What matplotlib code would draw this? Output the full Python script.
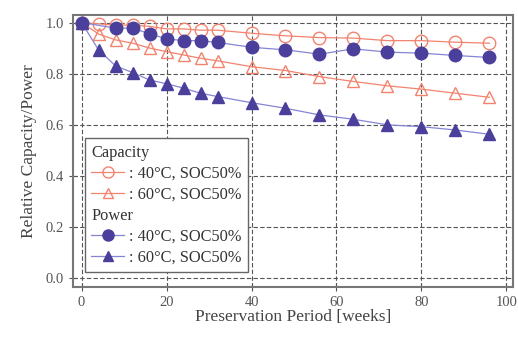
import matplotlib.pyplot as plt
from matplotlib.lines import Line2D

plt.rcParams["font.family"] = ["Liberation Serif", "DejaVu Serif"]

# preservation time points [weeks]
weeks = [0, 4, 8, 12, 16, 20, 24, 28, 32, 40, 48, 56, 64, 72, 80, 88, 96]
weeks_p40 = [0, 8, 12, 16, 20, 24, 28, 32, 40, 48, 56, 64, 72, 80, 88, 96]

# relative capacity
cap_40 = [1.0, 0.995, 0.99, 0.99, 0.985, 0.975, 0.975, 0.97, 0.97,
          0.958, 0.948, 0.941, 0.939, 0.929, 0.929, 0.923, 0.919]
cap_60 = [1.0, 0.955, 0.932, 0.919, 0.90, 0.886, 0.873, 0.86, 0.85,
          0.827, 0.812, 0.788, 0.769, 0.752, 0.739, 0.723, 0.707]

# relative power
pow_40 = [1.0, 0.978, 0.978, 0.956, 0.936, 0.929, 0.929, 0.922,
          0.903, 0.893, 0.876, 0.897, 0.884, 0.88, 0.871, 0.863]
pow_60 = [1.0, 0.893, 0.83, 0.804, 0.775, 0.76, 0.743, 0.723, 0.71,
          0.686, 0.664, 0.638, 0.621, 0.599, 0.592, 0.579, 0.562]

cap_line = "#f2836f"
pow_line = "#8585d6"
pow_mark = "#4b3f9c"

fig = plt.figure(figsize=(5.18, 3.38), dpi=100)
ax = fig.add_axes([0.141, 0.151, 0.849, 0.805])

ax.plot(weeks, cap_40, color=cap_line, lw=0.9, marker="o", ms=9,
        mfc="none", mec=cap_line, mew=1.0, zorder=3)
ax.plot(weeks, cap_60, color=cap_line, lw=0.9, marker="^", ms=8,
        mfc="none", mec=cap_line, mew=1.0, zorder=3)
ax.plot(weeks_p40, pow_40, color=pow_line, lw=0.9, marker="o", ms=9,
        mfc=pow_mark, mec=pow_mark, zorder=4)
ax.plot(weeks, pow_60, color=pow_line, lw=0.9, marker="^", ms=8,
        mfc=pow_mark, mec=pow_mark, zorder=4)

ax.set_xlim(-2, 101.5)
ax.set_ylim(-0.036, 1.03)
ax.set_xticks([0, 20, 40, 60, 80, 100])
ax.set_yticks([0.0, 0.2, 0.4, 0.6, 0.8, 1.0])
ax.set_yticklabels(["0.0", "0.2", "0.4", "0.6", "0.8", "1.0"])
ax.tick_params(direction="inout", length=6, width=0.8, color="#555555",
               labelsize=10.5, labelcolor="#555555")
ax.grid(True, color="#555555", lw=0.8, ls=(0, (4, 2)))
for s in ax.spines.values():
    s.set_color("#777777")
    s.set_linewidth(1.5)

ax.set_xlabel("Preservation Period [weeks]", fontsize=12.5, color="#444444",
              labelpad=0)
ax.set_ylabel("Relative Capacity/Power", fontsize=12.5, color="#444444",
              labelpad=6)

# legend with group headers
fs = 11.8
hl, hp = 2.0, 0.3
blank = Line2D([], [], ls="none")
handles = [
    blank,
    Line2D([], [], color=cap_line, lw=0.9, marker="o", ms=8, mfc="none", mec=cap_line),
    Line2D([], [], color=cap_line, lw=0.9, marker="^", ms=7, mfc="none", mec=cap_line),
    blank,
    Line2D([], [], color=pow_line, lw=0.9, marker="o", ms=8, mfc=pow_mark, mec=pow_mark),
    Line2D([], [], color=pow_line, lw=0.9, marker="^", ms=7, mfc=pow_mark, mec=pow_mark),
]
labels = ["Capacity", ": 40°C, SOC50%", ": 60°C, SOC50%",
          "Power", ": 40°C, SOC50%", ": 60°C, SOC50%"]
leg = ax.legend(handles, labels, loc="lower left",
                bbox_to_anchor=(0.027, 0.055), fontsize=fs,
                handlelength=hl, handletextpad=hp, labelspacing=0.3,
                borderpad=0.4, borderaxespad=0, fancybox=False,
                framealpha=1, edgecolor="#666666")
leg.get_frame().set_linewidth(1.0)
for txt in leg.get_texts():
    txt.set_color("#333333")
for i in (0, 3):
    leg.get_texts()[i].set_x(-(hl + hp) * fs * 1.4)

fig.savefig("out.png", dpi=100)
